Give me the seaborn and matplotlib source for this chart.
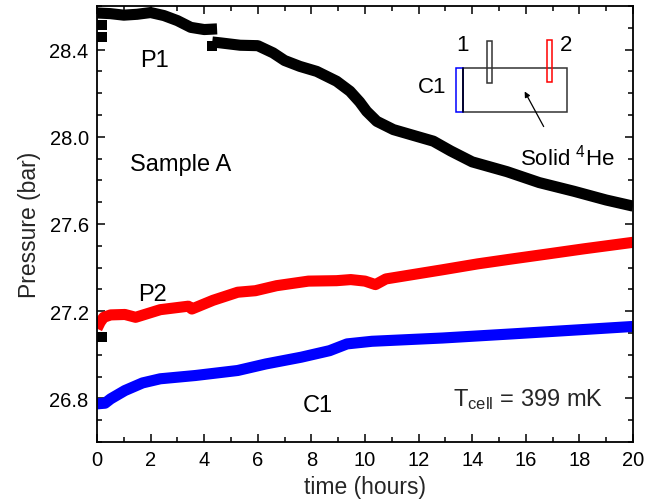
import matplotlib
matplotlib.use("Agg")
import matplotlib.pyplot as plt
from matplotlib.patches import Rectangle, FancyArrowPatch
from matplotlib.ticker import MultipleLocator
import seaborn as sns

# --- data ---
p1a_t = [0.0, 0.5, 1.0, 1.5, 2.0, 2.5, 3.0, 3.5, 4.0, 4.48]
p1a_p = [28.568, 28.565, 28.558, 28.562, 28.570, 28.556, 28.533, 28.502, 28.492, 28.495]

p1b_t = [4.3, 4.6, 5.34, 6.0, 6.57, 7.0, 7.57, 8.2, 8.94, 9.44, 9.8, 10.06,
         10.44, 11.06, 11.93, 12.55, 13.2, 14.0, 15.3, 16.5, 17.8, 19.0, 20.0]
p1b_p = [28.435, 28.431, 28.420, 28.418, 28.385, 28.350, 28.323, 28.300, 28.255,
         28.209, 28.160, 28.117, 28.071, 28.033, 28.002, 27.980, 27.935, 27.885,
         27.840, 27.790, 27.750, 27.710, 27.682]

p1_stray_t = [0.2, 0.2, 0.17, 4.28]
p1_stray_p = [28.515, 28.456, 27.080, 28.415]

p2_t = [0.0, 0.12, 0.25, 0.51, 1.04, 1.44, 2.36, 3.41, 3.54, 4.33, 5.25, 5.91,
        6.70, 7.89, 8.94, 9.47, 10.0, 10.39, 10.78, 12.89, 14.2, 15.5, 16.84,
        18.16, 20.0]
p2_p = [27.120, 27.150, 27.172, 27.183, 27.185, 27.172, 27.207, 27.223, 27.210,
        27.250, 27.287, 27.294, 27.317, 27.338, 27.340, 27.345, 27.338, 27.322,
        27.348, 27.390, 27.417, 27.440, 27.463, 27.486, 27.516]

c1_t = [0.0, 0.3, 0.51, 1.04, 1.7, 2.36, 3.67, 5.25, 6.3, 7.62, 8.68, 9.33,
        10.26, 12.89, 15.5, 18.16, 20.0]
c1_p = [26.775, 26.778, 26.798, 26.836, 26.871, 26.890, 26.905, 26.928, 26.958,
        26.989, 27.019, 27.050, 27.062, 27.077, 27.096, 27.116, 27.130]

sns.set_style("ticks")
plt.rcParams["font.family"] = ["Liberation Sans", "DejaVu Sans"]
plt.rcParams["mathtext.fontset"] = "custom"
plt.rcParams["mathtext.rm"] = "Liberation Sans"
plt.rcParams["mathtext.it"] = "Liberation Sans"

fig = plt.figure(figsize=(6.52, 5.02), dpi=100)
ax = fig.add_axes([97 / 652, 59 / 502, 536 / 652, 436 / 502])

lw = 8
for tt, pp, col in [(p1a_t, p1a_p, "black"), (p1b_t, p1b_p, "black"),
                    (p2_t, p2_p, "#ff0000"), (c1_t, c1_p, "#0000ff")]:
    sns.lineplot(x=tt, y=pp, ax=ax, color=col, lw=lw, sort=False,
                 estimator=None, solid_capstyle="butt")
sns.scatterplot(x=p1_stray_t, y=p1_stray_p, ax=ax, color="black", marker="s",
                s=45, linewidth=0)

ax.set_xlim(0, 20)
ax.set_ylim(26.6, 28.6)
ax.xaxis.set_major_locator(MultipleLocator(2))
ax.xaxis.set_minor_locator(MultipleLocator(1))
ax.yaxis.set_major_locator(MultipleLocator(0.4))
ax.yaxis.set_minor_locator(MultipleLocator(0.1))
ax.yaxis.set_major_formatter(matplotlib.ticker.FormatStrFormatter("%.1f"))
ax.tick_params(which="both", direction="in", top=True, right=True,
               width=1.1, labelsize=14.5, color="black", labelcolor="black")
ax.tick_params(which="major", length=6, pad=6)
ax.tick_params(which="minor", length=3.5)
for s in ax.spines.values():
    s.set_linewidth(1.3)
    s.set_color("black")

ax.set_xlabel("time (hours)", fontsize=16.5, labelpad=4)
ax.set_ylabel("Pressure (bar)", fontsize=16.5, labelpad=6)

# annotations
tk = dict(fontsize=17, ha="center", va="center", color="black")
ax.text(2.16, 28.352, "P1", **tk)
ax.text(3.12, 27.873, "Sample A", **tk)
ax.text(2.07, 27.281, "P2", **tk)
ax.text(8.23, 26.772, "C1", **tk)
ax.text(0.665, 0.10, r"T$_{\mathrm{cell}}$ = 399 mK", transform=ax.transAxes,
        fontsize=17, ha="left", va="center")

# cell sketch (axes fraction)
tr = ax.transAxes
sk = dict(fontsize=16, ha="center", va="center", color="black", transform=tr)
ax.add_patch(Rectangle((0.6834, 0.7562), 0.1929, 0.1016, transform=tr,
                       fill=False, ec="#333333", lw=1.1))
ax.add_patch(Rectangle((0.6698, 0.7562), 0.0136, 0.1016, transform=tr,
                       fill=False, ec="#0000ff", lw=1.1))
ax.plot([0.6834, 0.6834], [0.7562, 0.8578], transform=tr, color="black", lw=1.1)
ax.add_patch(Rectangle((0.7271, 0.8234), 0.0104, 0.0963, transform=tr,
                       fill=False, ec="#333333", lw=1.1))
ax.add_patch(Rectangle((0.8390, 0.8250), 0.0104, 0.0963, transform=tr,
                       fill=False, ec="#ff0000", lw=1.1))
ax.add_patch(FancyArrowPatch((0.8358, 0.7179), (0.7954, 0.8096), transform=tr,
                             arrowstyle="-|>", mutation_scale=8, color="black",
                             lw=0.9))
ax.text(0.681, 0.9106, "1", **sk)
ax.text(0.875, 0.9106, "2", **sk)
ax.text(0.626, 0.8165, "C1", **sk)
ax.text(0.877, 0.654, r"Solid $^{\mathrm{4}}$He", **sk)

fig.savefig("out.png", dpi=100)
